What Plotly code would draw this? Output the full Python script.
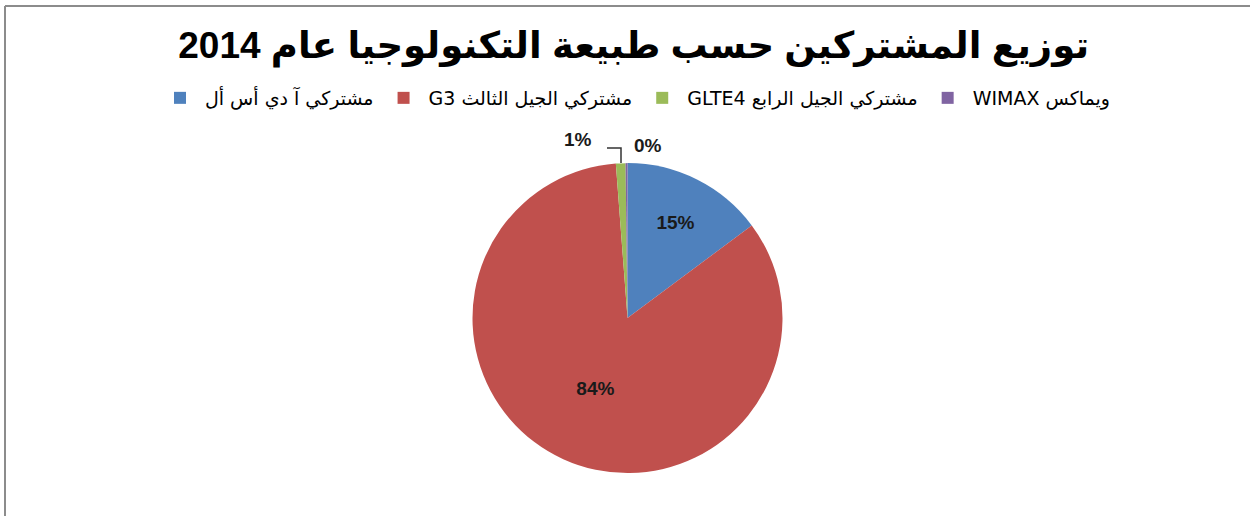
import plotly.graph_objects as go

RLE = "\u202b"
PDF = "\u202c"

title_text = "توزيع المشتركين حسب طبيعة التكنولوجيا عام 2014"
categories = [
    "مشتركي آ دي أس أل",
    "مشتركي الجيل الثالث G3",
    "مشتركي الجيل الرابع GLTE4",
    "ويماكس WIMAX",
]
values = [14.8, 84.0, 1.0, 0.2]
colors = ["#4F81BD", "#C0504D", "#9BBB59", "#8064A2"]

labels = [RLE + c + PDF for c in categories]
total = sum(values)
pct_text = [f"{round(v / total * 100)}%" for v in values]

W, H = 1250, 516
label_font = dict(family="Liberation Sans, Arial, sans-serif", size=19, color="#1a1a1a", weight="bold")

fig = go.Figure()
fig.add_trace(go.Pie(
    labels=labels,
    values=values,
    sort=False,
    direction="clockwise",
    rotation=0,
    marker=dict(colors=colors, line=dict(width=0)),
    text=pct_text,
    texttemplate=["%{text}", "%{text}", "", ""],
    textposition="inside",
    textfont=label_font,
    insidetextorientation="horizontal",
    hoverinfo="label+percent",
    domain=dict(x=[0.378, 0.626], y=[0.083, 0.684]),
))

# labels for the two thin slices placed outside, as in the reference
fig.add_annotation(text=pct_text[2], xref="paper", yref="paper", x=578 / W, y=1 - 139 / H,
                   xanchor="center", yanchor="middle", showarrow=False, font=label_font)
fig.add_annotation(text=pct_text[3], xref="paper", yref="paper", x=648 / W, y=1 - 145 / H,
                   xanchor="center", yanchor="middle", showarrow=False, font=label_font)

fig.update_layout(
    width=W,
    height=H,
    paper_bgcolor="white",
    plot_bgcolor="white",
    margin=dict(l=0, r=0, t=0, b=0),
    title=dict(
        text="<b>" + RLE + title_text + PDF + "</b>",
        x=0.507,
        xanchor="center",
        y=0.912,
        yanchor="middle",
        font=dict(family="Liberation Sans, DejaVu Sans, Arial, sans-serif", size=37, color="#000000"),
    ),
    legend=dict(
        orientation="h",
        x=0.508,
        xanchor="center",
        y=1 - 98 / H,
        yanchor="middle",
        font=dict(family="DejaVu Sans, Liberation Sans, sans-serif", size=19, color="#000000"),
        itemwidth=40,
        bgcolor="rgba(0,0,0,0)",
    ),
    showlegend=True,
    shapes=[
        dict(type="line", xref="paper", yref="paper", x0=5 / W, x1=5 / W, y0=0, y1=1 - 6 / H,
             line=dict(color="#8c8c8c", width=2)),
        dict(type="line", xref="paper", yref="paper", x0=5 / W, x1=1, y0=1 - 6 / H, y1=1 - 6 / H,
             line=dict(color="#8c8c8c", width=2)),
        dict(type="path", xref="paper", yref="paper",
             path=f"M {607 / W} {1 - 148 / H} L {621 / W} {1 - 148 / H} L {621 / W} {1 - 163 / H}",
             line=dict(color="#333333", width=1.5)),
    ],
)

fig.write_html("out.html")
